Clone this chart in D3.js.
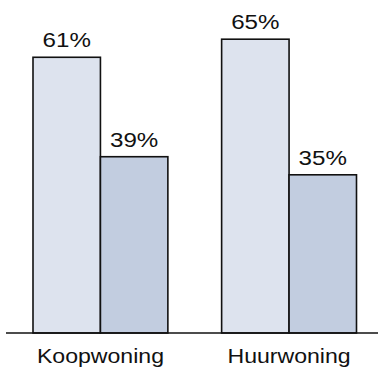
<!DOCTYPE html>
<html>
<head>
<meta charset="utf-8">
<script src="https://cdn.jsdelivr.net/npm/d3@7"></script>
<style>
  html, body { margin: 0; padding: 0; background: #fff; }
  svg { display: block; }
  text { font-family: "Liberation Sans", Arial, Helvetica, sans-serif; fill: #111; }
</style>
</head>
<body>
<svg id="chart" width="378" height="369"></svg>
<script>
// Housing type groups and the two shares per group (percent)
const categories = ["Koopwoning", "Huurwoning"];
const series = ["a", "b"];
const valuesA = [61, 65];
const valuesB = [39, 35];
const seriesColors = ["#dde3ee", "#c2cde0"];

const data = categories.map((c, i) => ({ cat: c, vals: [valuesA[i], valuesB[i]] }));

const svg = d3.select("#chart");
const baseline = 333;

const x0 = d3.scaleBand().domain(categories).range([33, 356.5]).paddingInner(0.285).paddingOuter(0);
const x1 = d3.scaleBand().domain(series).range([0, x0.bandwidth()]).padding(0);
const y = d3.scaleLinear().domain([0, 100]).range([baseline, baseline - 452]);

const groups = svg.selectAll("g.grp").data(data).join("g")
  .attr("class", "grp")
  .attr("transform", d => `translate(${x0(d.cat)},0)`);

groups.selectAll("rect").data(d => d.vals.map((v, j) => ({ key: series[j], v, j }))).join("rect")
  .attr("x", d => x1(d.key))
  .attr("y", d => y(d.v))
  .attr("width", x1.bandwidth())
  .attr("height", d => baseline - y(d.v))
  .attr("fill", d => seriesColors[d.j])
  .attr("stroke", "#111")
  .attr("stroke-width", 1.6);

groups.selectAll("text.val").data(d => d.vals.map((v, j) => ({ key: series[j], v }))).join("text")
  .attr("class", "val")
  .attr("x", d => x1(d.key) + x1.bandwidth() / 2)
  .attr("y", d => y(d.v) - 10)
  .attr("text-anchor", "middle")
  .attr("font-size", 21)
  .attr("transform-origin", d => `${x1(d.key) + x1.bandwidth() / 2} ${y(d.v) - 10}`)
  .attr("transform", "scale(1.15,1)")
  .text(d => d.v + "%");

// baseline axis with category labels
const axis = d3.axisBottom(x0).tickSize(0).tickPadding(15);
const ax = svg.append("g").attr("transform", `translate(0,${baseline})`).call(axis);
ax.select(".domain").attr("d", "M6,0H378").attr("stroke", "#111").attr("stroke-width", 1.6);
ax.selectAll(".tick text")
  .attr("font-size", 21)
  .attr("fill", "#111")
  .attr("font-family", '"Liberation Sans", Arial, sans-serif')
  .attr("dy", "0.71em")
  .attr("transform", "scale(1.1,1)")
  .style("transform-box", "fill-box")
  .style("transform-origin", "center");
</script>
</body>
</html>
